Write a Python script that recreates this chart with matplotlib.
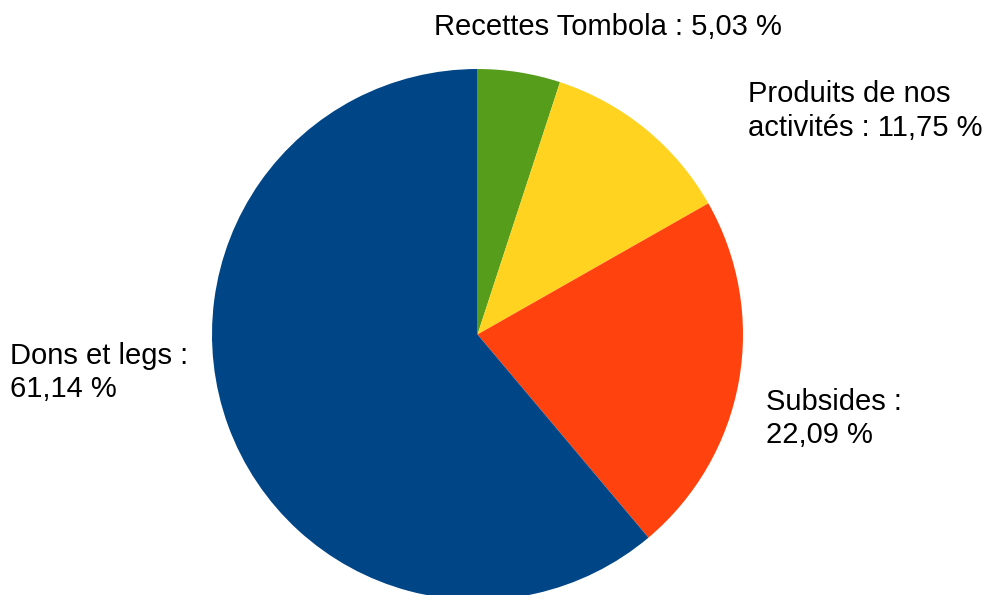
import matplotlib
matplotlib.use("Agg")
import matplotlib.pyplot as plt

categories = ["Recettes Tombola", "Produits de nos activités", "Subsides", "Dons et legs"]
values = [5.03, 11.75, 22.09, 61.14]
colors = ["#579D1C", "#FFD320", "#FF420E", "#004586"]
label_texts = ["Recettes Tombola : 5,03 %",
               "Produits de nos\nactivités : 11,75 %",
               "Subsides :\n22,09 %",
               "Dons et legs :\n61,14 %"]

W, H = 985, 595
fig = plt.figure(figsize=(W / 100, H / 100), dpi=100)
ax = fig.add_axes([0, 0, 1, 1])
plt.rcParams['font.family'] = ['Liberation Sans', 'DejaVu Sans']

cx, cy, r = 477.5, H - 334.5, 265.5
ax.pie(values, colors=colors, startangle=90, counterclock=False,
       center=(cx, cy), radius=r, wedgeprops=dict(linewidth=0))
ax.set_xlim(0, W)
ax.set_ylim(0, H)
ax.set_aspect('equal')
ax.axis('off')

# label anchors (left x, last-line baseline y in pixels from top)
label_pos = [(434, 35), (748, 136), (766, 443), (10, 397)]
for txt, (x, y) in zip(label_texts, label_pos):
    ax.text(x, H - y, txt, fontsize=21.0, ha='left', va='baseline',
            color='black', linespacing=1.25, family=['Liberation Sans', 'DejaVu Sans'])

fig.savefig("out.png", dpi=100)
